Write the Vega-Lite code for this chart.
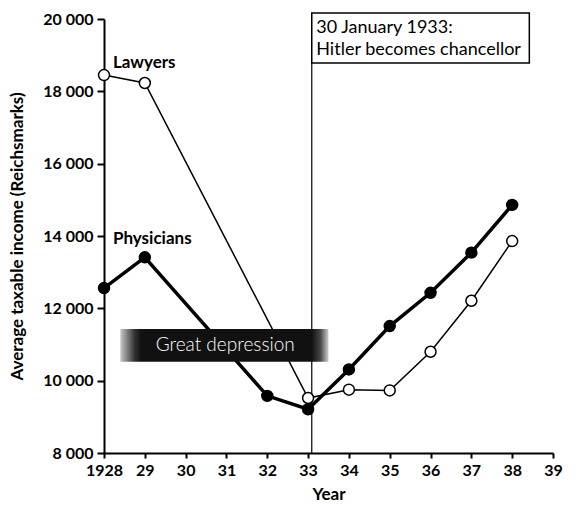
{
  "$schema": "https://vega.github.io/schema/vega-lite/v6.json",
  "width": 449,
  "height": 434,
  "autosize": {"type": "none"},
  "padding": {"left": 104, "top": 19, "right": 25, "bottom": 58},
  "background": "white",
  "config": {
    "view": {"stroke": null},
    "font": "Lato",
    "axis": {
      "domainColor": "black", "domainWidth": 2, "tickColor": "black", "tickWidth": 2,
      "grid": false, "labelFont": "Lato", "labelFontWeight": "bold", "labelFontSize": 16, "labelColor": "black",
      "labelOverlap": false, "labelBound": false, "labelFlush": false,
      "titleFont": "Lato", "titleFontWeight": "bold", "titleFontSize": 17, "titleColor": "black"
    }
  },
  "datasets": {
    "income": [
      {"year": 1928, "income": 18450, "group": "Lawyers"},
      {"year": 1929, "income": 18230, "group": "Lawyers"},
      {"year": 1933, "income": 9520, "group": "Lawyers"},
      {"year": 1934, "income": 9750, "group": "Lawyers"},
      {"year": 1935, "income": 9730, "group": "Lawyers"},
      {"year": 1936, "income": 10800, "group": "Lawyers"},
      {"year": 1937, "income": 12210, "group": "Lawyers"},
      {"year": 1938, "income": 13860, "group": "Lawyers"},
      {"year": 1928, "income": 12560, "group": "Physicians"},
      {"year": 1929, "income": 13410, "group": "Physicians"},
      {"year": 1932, "income": 9580, "group": "Physicians"},
      {"year": 1933, "income": 9210, "group": "Physicians"},
      {"year": 1934, "income": 10310, "group": "Physicians"},
      {"year": 1935, "income": 11510, "group": "Physicians"},
      {"year": 1936, "income": 12430, "group": "Physicians"},
      {"year": 1937, "income": 13540, "group": "Physicians"},
      {"year": 1938, "income": 14860, "group": "Physicians"}
    ],
    "depression": [{"label": "Great depression", "start": 1928.4, "end": 1933.5, "low": 10520, "high": 11430, "mid": 1930.97, "center": 10975}],
    "hitler": [{"date": 1933.09, "boxEnd": 1938.42, "boxTop": 20166, "boxBottom": 18783, "base": 8000, "textX": 1933.2, "textY": 19613, "label": ["30 January 1933:", "Hitler becomes chancellor"]}],
    "series": [
      {"label": "Lawyers", "x": 1928.22, "y": 18783},
      {"label": "Physicians", "x": 1928.22, "y": 13917}
    ]
  },
  "layer": [
    {
      "data": {"name": "hitler"},
      "mark": {"type": "rule", "color": "black", "strokeWidth": 1.2},
      "encoding": {
        "x": {"field": "date", "type": "quantitative", "scale": {"domain": [1928, 1939], "nice": false, "zero": false},
          "axis": {
            "values": [1928,1929,1930,1931,1932,1933,1934,1935,1936,1937,1938,1939],
            "labelExpr": "datum.value == 1928 ? '1928' : substring(toString(datum.value), 2, 4)",
            "tickSize": 5, "labelPadding": 4, "title": "Year", "titlePadding": 8
          }},
        "y": {"field": "boxBottom", "type": "quantitative", "scale": {"domain": [8000, 20000], "nice": false, "zero": false},
          "axis": {
            "values": [8000,10000,12000,14000,16000,18000,20000],
            "labelExpr": "replace(format(datum.value, ','), ',', ' ')",
            "tickSize": 7, "labelPadding": 4,
            "title": "Average taxable income (Reichsmarks)", "titlePadding": 16
          }},
        "y2": {"field": "base"}
      }
    },
    {
      "data": {"name": "income"},
      "mark": {"type": "line", "color": "black"},
      "encoding": {
        "x": {"field": "year", "type": "quantitative"},
        "y": {"field": "income", "type": "quantitative"},
        "detail": {"field": "group"},
        "strokeWidth": {"field": "group", "type": "nominal", "scale": {"domain": ["Physicians", "Lawyers"], "range": [3.5, 1.5]}, "legend": null}
      }
    },
    {
      "data": {"name": "income"},
      "mark": {"type": "point", "filled": true, "stroke": "black", "strokeWidth": 1.5, "size": 120, "opacity": 1},
      "encoding": {
        "x": {"field": "year", "type": "quantitative"},
        "y": {"field": "income", "type": "quantitative"},
        "fill": {"field": "group", "type": "nominal", "scale": {"domain": ["Physicians", "Lawyers"], "range": ["black", "white"]}, "legend": null}
      }
    },
    {
      "data": {"name": "depression"},
      "mark": {
        "type": "rect",
        "fill": {
          "x1": 0, "y1": 0, "x2": 1, "y2": 0, "gradient": "linear",
          "stops": [
            {"offset": 0, "color": "#c8c8c8"},
            {"offset": 0.07, "color": "#303030"},
            {"offset": 0.1, "color": "#111111"},
            {"offset": 0.92, "color": "#111111"},
            {"offset": 0.96, "color": "#444444"},
            {"offset": 1, "color": "#cfcfcf"}
          ]
        }
      },
      "encoding": {
        "x": {"field": "start", "type": "quantitative"}, "x2": {"field": "end"},
        "y": {"field": "low", "type": "quantitative"}, "y2": {"field": "high"}
      }
    },
    {
      "data": {"name": "depression"},
      "mark": {"type": "text", "color": "white", "font": "Lato", "fontWeight": 300, "fontSize": 19, "letterSpacing": 2, "align": "center", "baseline": "middle"},
      "encoding": {
        "x": {"field": "mid", "type": "quantitative"},
        "y": {"field": "center", "type": "quantitative"},
        "text": {"field": "label"}
      }
    },
    {
      "data": {"name": "hitler"},
      "mark": {"type": "rect", "fill": "white", "stroke": "black", "strokeWidth": 1.5},
      "encoding": {
        "x": {"field": "date", "type": "quantitative"}, "x2": {"field": "boxEnd"},
        "y": {"field": "boxTop", "type": "quantitative"}, "y2": {"field": "boxBottom"}
      }
    },
    {
      "data": {"name": "hitler"},
      "mark": {"type": "text", "color": "black", "font": "Lato", "fontSize": 18, "align": "left", "baseline": "alphabetic", "lineHeight": 22},
      "encoding": {
        "x": {"field": "textX", "type": "quantitative"},
        "y": {"field": "textY", "type": "quantitative"},
        "text": {"field": "label"}
      }
    },
    {
      "data": {"name": "series"},
      "mark": {"type": "text", "color": "black", "font": "Lato", "fontWeight": "bold", "fontSize": 17, "align": "left", "baseline": "middle"},
      "encoding": {
        "x": {"field": "x", "type": "quantitative"},
        "y": {"field": "y", "type": "quantitative"},
        "text": {"field": "label"}
      }
    }
  ]
}
